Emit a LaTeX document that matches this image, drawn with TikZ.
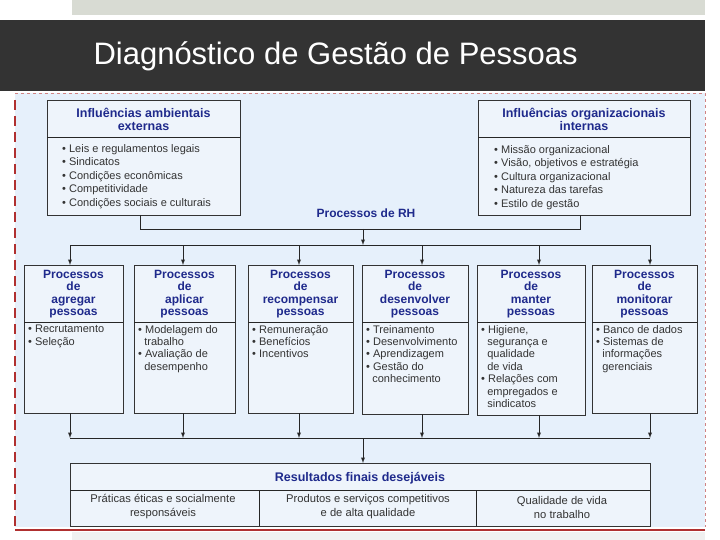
\documentclass[tikz,border=0pt]{standalone}
\usepackage{fontspec}
\setmainfont{Liberation Sans}
\definecolor{navy}{HTML}{1F2A8C}
\definecolor{txt}{HTML}{333333}
\definecolor{dark}{HTML}{333333}
\definecolor{topgray}{HTML}{D8DBD3}
\definecolor{bgblue}{HTML}{E6F0FB}
\definecolor{boxbg}{HTML}{EEF4FB}
\definecolor{redl}{HTML}{B03030}
\begin{document}
\begin{tikzpicture}[x=1pt,y=-1pt,
  bx/.style={draw=black!80,line width=0.9pt,fill=boxbg},
  hd/.style={font=\fontsize{12}{12.3}\selectfont\bfseries,text=navy,align=center},
  it/.style={font=\fontsize{11}{12.4}\selectfont,text=txt,align=left,anchor=north west,inner sep=0pt},
  ti/.style={font=\fontsize{11}{13.6}\selectfont,text=txt,align=left,anchor=north west,inner sep=0pt},
  ri/.style={font=\fontsize{11.2}{14}\selectfont,text=txt,align=center,inner sep=0pt},
  ln/.style={line width=0.9pt,black!85},
  ar/.style={ln,-latex}]
\useasboundingbox (0,0) rectangle (720,540);
\fill[white] (0,0) rectangle (720,540);
\fill[topgray] (72,0) rectangle (705,15);
\fill[dark] (0,20) rectangle (705,91);
\node[anchor=west,text=white,font=\fontsize{31}{36}\selectfont] (title) at (90,56) {Diagnóstico de Gestão de Pessoas};
\fill[bgblue] (15,93) rectangle (705,527);
\draw[redl!60,dashed,line width=0.5pt] (15,93) -- (705,93) -- (705,527);
\draw[redl,dash pattern=on 10pt off 6pt,line width=1.2pt] (15,100) -- (15,527);
\draw[redl,line width=1.2pt] (15,530) -- (705,530);
\fill[black!6] (72,532) rectangle (705,540);
% top boxes
\draw[bx] (47,100) rectangle (240,215);
\draw[ln] (47,137) -- (240,137);
\node[hd,font=\fontsize{12.5}{13}\selectfont\bfseries] (tl) at (143.5,119) {Influências ambientais\\externas};
\node[ti] (tli) at (62,144) {• Leis e regulamentos legais\\• Sindicatos\\• Condições econômicas\\• Competitividade\\• Condições sociais e culturais};
\draw[bx] (478,100) rectangle (690,215);
\draw[ln] (478,137) -- (690,137);
\node[hd,font=\fontsize{12.5}{13}\selectfont\bfseries] (tr) at (584,119) {Influências organizacionais\\internas};
\node[ti] (tri) at (494,145) {• Missão organizacional\\• Visão, objetivos e estratégia\\• Cultura organizacional\\• Natureza das tarefas\\• Estilo de gestão};
\node[hd] (rh) at (366,213) {Processos de RH};
\coordinate (jl) at (140,229); \coordinate (jr) at (580,229); \coordinate (jm) at (363,229);
\draw[ln] (140,215) -- (jl) -- (jr) -- (580,215);
\draw[ar] (jm) -- (363,245);
\draw[ln] (70,245) -- (650,245);
% process boxes
\foreach \a/\b/\c/\bot/\h/\items in {
 24/123/70/413/agregar/{• Recrutamento\\• Seleção},
 134/235/183/413/aplicar/{• Modelagem do\\\ \ trabalho\\• Avaliação de\\\ \ desempenho},
 248/353/299/413/recompensar/{• Remuneração\\• Benefícios\\• Incentivos},
 362/468/422/414/desenvolver/{• Treinamento\\• Desenvolvimento\\• Aprendizagem\\• Gestão do\\\ \ conhecimento},
 477/585/539/415/manter/{• Higiene,\\\ \ segurança e\\\ \ qualidade\\\ \ de vida\\• Relações com\\\ \ empregados e\\\ \ sindicatos},
 592/697/650/413/monitorar/{• Banco de dados\\• Sistemas de\\\ \ informações\\\ \ gerenciais}}{
  \draw[ar] (\c,245) -- (\c,265);
  \draw[bx] (\a,265) rectangle (\b,\bot);
  \draw[ln] (\a,322) -- (\b,322);
  \node[hd] at ({(\a+\b)/2},294) {Processos\\de\\\h\\pessoas};
  \node[it] at (\a+4,325) {\items};
  \draw[ar] (\c,\bot) -- (\c,438);
}
\draw[ln] (70,438) -- (650,438);
\draw[ar] (363,438) -- (363,463);
% results
\draw[bx] (70,463) rectangle (650,526);
\draw[ln] (70,490) -- (650,490) (259,490) -- (259,526) (476,490) -- (476,526);
\node[hd,font=\fontsize{12.5}{13}\selectfont\bfseries] (res) at (360,478) {Resultados finais desejáveis};
\node[ri] (r1) at (163,507) {Práticas éticas e socialmente\\responsáveis};
\node[ri] (r2) at (368,507) {Produtos e serviços competitivos\\e de alta qualidade};
\node[ri] (r3) at (562,507) {Qualidade de vida\\no trabalho};
\end{tikzpicture}
\end{document}
